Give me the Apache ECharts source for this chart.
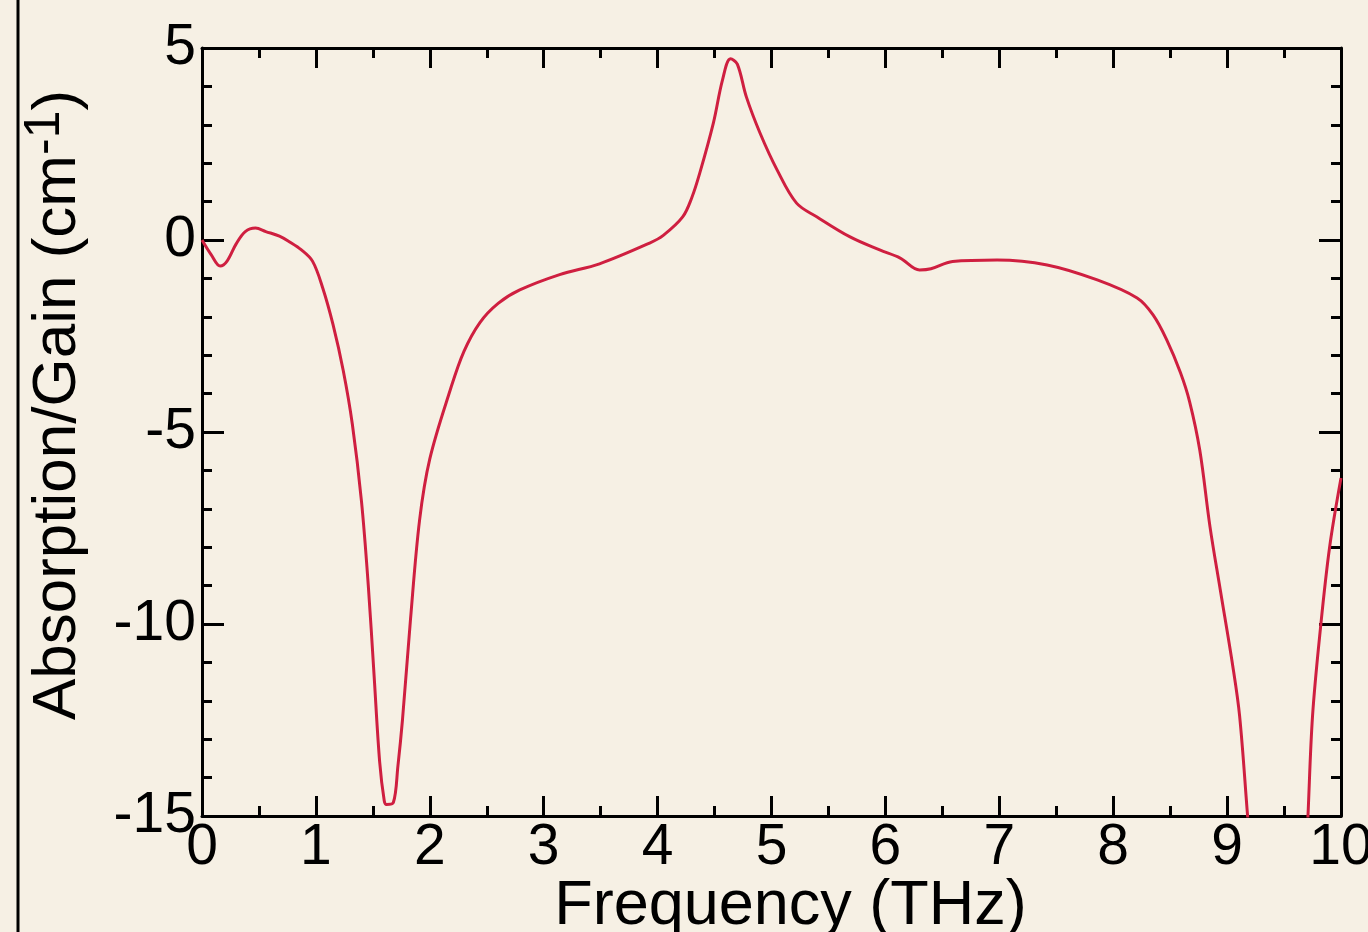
<!DOCTYPE html>
<html>
<head>
<meta charset="utf-8">
<title>Absorption/Gain spectrum</title>
<script src="https://cdn.jsdelivr.net/npm/echarts@6/dist/echarts.min.js"></script>
<style>
  html, body { margin: 0; padding: 0; background: #f6f0e4; }
  #chart { width: 1368px; height: 932px; }
</style>
</head>
<body>
<div id="chart"></div>
<script>
// Frequency samples (THz) and absorption/gain values (cm^-1).
// A null breaks the trace where it runs below the plotted range.
const frequency = [
  0.00, 0.08, 0.16, 0.22, 0.30, 0.38, 0.47, 0.56, 0.68, 0.77,
  0.87, 0.97, 1.06, 1.15, 1.24, 1.32, 1.40, 1.46, 1.51, 1.56,
  1.60, 1.62, 1.68, 1.72, 1.76, 1.83, 1.91, 2.00, 2.18, 2.30,
  2.44, 2.60, 2.79, 3.14, 3.49, 3.93, 4.05, 4.22, 4.30, 4.37,
  4.49, 4.57, 4.64, 4.70, 4.78, 4.90, 5.05, 5.22, 5.40, 5.69,
  5.95, 6.13, 6.30, 6.40, 6.59, 6.98, 7.42, 7.86, 8.21, 8.35,
  8.47, 8.59, 8.67, 8.76, 8.85, 8.94, 9.05, 9.11, 9.18, 9.20,
  9.45, 9.70, 9.71, 9.75, 9.82, 9.90, 10.00
];
const absorption = [
  0.00, -0.38, -0.68, -0.55, -0.10, 0.22, 0.31, 0.22, 0.10, -0.05,
  -0.25, -0.55, -1.25, -2.20, -3.40, -4.80, -6.80, -9.00, -11.30, -13.60,
  -14.60, -14.70, -14.65, -13.70, -12.50, -9.90, -7.30, -5.70, -3.90, -2.90,
  -2.15, -1.65, -1.30, -0.90, -0.62, -0.08, 0.12, 0.60, 1.10, 1.74,
  3.05, 4.17, 4.72, 4.58, 3.72, 2.78, 1.82, 0.96, 0.60, 0.08,
  -0.26, -0.47, -0.78, -0.75, -0.56, -0.52, -0.65, -1.04, -1.51, -1.95,
  -2.60, -3.45, -4.20, -5.47, -7.47, -9.11, -11.10, -12.40, -15.00, -15.70,
  null, -15.65, -15.00, -12.40, -10.10, -8.00, -6.20
];

const xTicks = { min: 0, max: 10, step: 1 };
const yTicks = { min: -15, max: 5, step: 5 };

const points = frequency.map((f, i) => [f, absorption[i]]);

const FONT = 'Liberation Sans, Arial, sans-serif';
const INK = '#000000';

function axisFrame(showLabels, isX) {
  return {
    axisLine: { show: true, onZero: false, lineStyle: { color: INK, width: 3 } },
    axisTick: { show: true, inside: true, length: isX ? 20 : 22, lineStyle: { color: INK, width: 3 } },
    minorTick: { show: true, splitNumber: isX ? 2 : 5, length: 10, lineStyle: { color: INK, width: 3 } },
    splitLine: { show: false },
    minorSplitLine: { show: false },
    axisLabel: {
      show: showLabels,
      color: INK,
      fontFamily: FONT,
      fontSize: 57,
      margin: isX ? 4 : 6,
      showMinLabel: true,
      showMaxLabel: true,
      hideOverlap: false
    }
  };
}

const chart = echarts.init(document.getElementById('chart'), null, { renderer: 'canvas' });

chart.setOption({
  backgroundColor: '#f6f0e4',
  animation: false,
  grid: {
    left: 202, right: 27, top: 48, bottom: 116,
    containLabel: false,
    outerBoundsMode: 'none'
  },
  xAxis: [
    Object.assign({
      type: 'value', position: 'bottom',
      min: xTicks.min, max: xTicks.max, interval: xTicks.step,
      name: 'Frequency (THz)',
      nameLocation: 'middle',
      nameGap: 59,
      nameMoveOverlap: false,
      nameTextStyle: { color: INK, fontFamily: FONT, fontSize: 63, padding: [0, 0, 0, 38] }
    }, axisFrame(true, true)),
    Object.assign({
      type: 'value', position: 'top',
      min: xTicks.min, max: xTicks.max, interval: xTicks.step
    }, axisFrame(false, true))
  ],
  yAxis: [
    Object.assign({
      type: 'value', position: 'left',
      min: yTicks.min, max: yTicks.max, interval: yTicks.step,
      name: '{a|Absorption/Gain (cm}{s|-1}{a|)}',
      nameLocation: 'middle',
      nameRotate: 90,
      nameGap: 111,
      nameMoveOverlap: false,
      nameTextStyle: {
        color: INK, fontFamily: FONT, fontSize: 62, padding: [0, 0, 0, 54],
        rich: {
          a: { color: INK, fontFamily: FONT, fontSize: 62, lineHeight: 66 },
          // superscript: bottom padding lifts the glyph above the baseline
          s: { color: INK, fontFamily: FONT, fontSize: 50, lineHeight: 40, padding: [0, 0, 26, 0] }
        }
      }
    }, axisFrame(true, false)),
    Object.assign({
      type: 'value', position: 'right',
      min: yTicks.min, max: yTicks.max, interval: yTicks.step
    }, axisFrame(false, false))
  ],
  graphic: [
    {
      type: 'line',
      shape: { x1: 18, y1: 0, x2: 18, y2: 932 },
      style: { stroke: INK, lineWidth: 3 },
      silent: true
    }
  ],
  series: [
    {
      type: 'line',
      data: points,
      xAxisIndex: 0,
      yAxisIndex: 0,
      showSymbol: false,
      smooth: 0.35,
      connectNulls: false,
      clip: true,
      lineStyle: { color: '#cf1f40', width: 3 }
    }
  ]
});
</script>
</body>
</html>
